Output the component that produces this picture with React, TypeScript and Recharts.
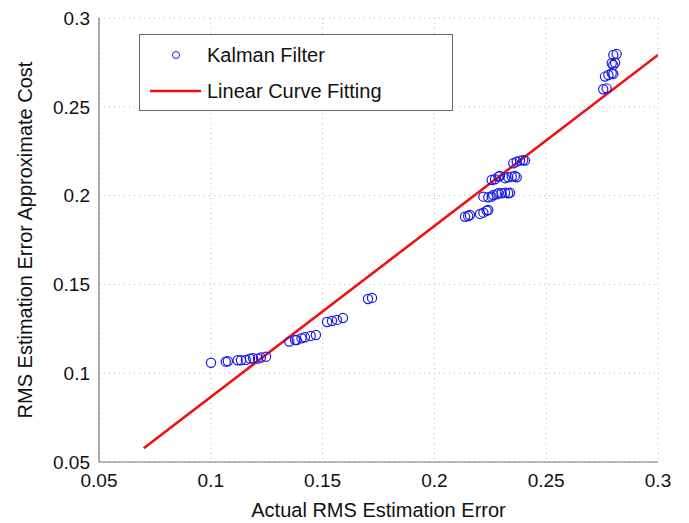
import React from 'react';
import { ScatterChart, Scatter, XAxis, YAxis, CartesianGrid, Legend } from 'recharts';

const kalmanX: number[] = [
  0.1001, 0.1067, 0.1076, 0.112, 0.1135, 0.1157, 0.1175, 0.1189, 0.1211, 0.1224, 0.1247,
  0.1351, 0.1377, 0.1384, 0.1406, 0.1421, 0.1447, 0.147,
  0.152, 0.1542, 0.1564, 0.1591,
  0.1703, 0.1721,
  0.2137, 0.2151, 0.2159, 0.2204, 0.2219, 0.2234, 0.2241,
  0.2219, 0.2241, 0.2256, 0.2263, 0.2279, 0.2286, 0.2301, 0.2316, 0.233, 0.2338,
  0.2256, 0.2271, 0.2286, 0.2293, 0.2316, 0.233, 0.2346, 0.236, 0.2368,
  0.2353, 0.2368, 0.2383, 0.2397, 0.2405,
  0.2755, 0.277, 0.2763, 0.2778, 0.2793, 0.28, 0.2793, 0.2808, 0.28, 0.28, 0.2815,
];
const kalmanY: number[] = [
  0.1059, 0.1065, 0.1067, 0.1073, 0.1073, 0.1075, 0.1082, 0.1084, 0.1082, 0.1088, 0.1093,
  0.1178, 0.1187, 0.1187, 0.1197, 0.1202, 0.121, 0.1215,
  0.1288, 0.1294, 0.13, 0.1311,
  0.1418, 0.1424,
  0.1881, 0.1885, 0.1891, 0.1897, 0.1904, 0.1915, 0.1919,
  0.1994, 0.1991, 0.1994, 0.2003, 0.2007, 0.2013, 0.2013, 0.2016, 0.2013, 0.2016,
  0.2088, 0.2092, 0.2107, 0.211, 0.2098, 0.2103, 0.2107, 0.211, 0.2103,
  0.2182, 0.2191, 0.2197, 0.22, 0.2197,
  0.2599, 0.2604, 0.267, 0.2679, 0.2689, 0.2685, 0.2745, 0.2748, 0.2735, 0.2792, 0.2797,
];
const fitX: number[] = [0.07, 0.3];
const fitY: number[] = [0.0577, 0.2792];
const ticks: number[] = [0.05, 0.1, 0.15, 0.2, 0.25, 0.3];
const tickLabels: string[] = ['0.05', '0.1', '0.15', '0.2', '0.25', '0.3'];

const kalmanData = kalmanX.map((x, i) => ({ x, y: kalmanY[i] }));
const fitData = fitX.map((x, i) => ({ x, y: fitY[i] }));

const FONT = '"Liberation Sans", Arial, Helvetica, sans-serif';
const BLUE = '#1a1ae6';
const RED = '#ee1111';

const fmt = (v: number) => {
  const i = ticks.findIndex((t) => Math.abs(t - v) < 1e-9);
  return i >= 0 ? tickLabels[i] : String(v);
};

const HollowCircle = (props: any) => {
  const { cx, cy } = props;
  if (cx == null || cy == null) return <g />;
  return <circle cx={cx} cy={cy} r={4.6} fill="none" stroke={BLUE} strokeWidth={1.2} />;
};

const NoShape = () => <g />;

const LegendBox = () => (
  <div
    style={{
      width: 312,
      height: 75,
      border: '1.5px solid #666',
      background: '#fff',
      fontFamily: FONT,
      fontSize: 20,
      color: '#111',
      position: 'relative',
      boxSizing: 'content-box',
    }}
  >
    <svg width={70} height={75} style={{ position: 'absolute', left: 0, top: 0 }}>
      <circle cx={36} cy={20} r={3.5} fill="none" stroke={BLUE} strokeWidth={1} />
      <line x1={10} x2={61} y1={56} y2={56} stroke={RED} strokeWidth={2.5} />
    </svg>
    <div style={{ position: 'absolute', left: 67, top: 8, lineHeight: '24px', whiteSpace: 'nowrap' }}>Kalman Filter</div>
    <div style={{ position: 'absolute', left: 67, top: 44, lineHeight: '24px', whiteSpace: 'nowrap' }}>Linear Curve Fitting</div>
  </div>
);

export default function App() {
  return (
    <div style={{ position: 'absolute', left: 0, top: 0, background: '#fff' }}>
      <ScatterChart width={689} height={523} margin={{ top: 18, right: 31, bottom: 0, left: 0 }}>
        <CartesianGrid stroke="#b8b8b8" strokeDasharray="1 4" />
        <XAxis
          type="number"
          dataKey="x"
          domain={[0.05, 0.3]}
          ticks={ticks}
          tickFormatter={fmt}
          height={61}
          tickSize={0}
          tickMargin={12}
          axisLine={{ stroke: '#777', strokeWidth: 1.2 }}
          tick={{ fill: '#111', fontSize: 19, fontFamily: FONT }}
          allowDataOverflow
          label={{ value: 'Actual RMS Estimation Error', position: 'center', dy: 17, fill: '#111', fontSize: 20, fontFamily: FONT }}
        />
        <YAxis
          type="number"
          dataKey="y"
          domain={[0.05, 0.3]}
          ticks={ticks}
          tickFormatter={fmt}
          width={99}
          tickSize={0}
          tickMargin={9}
          axisLine={{ stroke: '#777', strokeWidth: 1.2 }}
          tick={{ fill: '#111', fontSize: 19, fontFamily: FONT }}
          allowDataOverflow
          label={{ value: 'RMS Estimation Error Approximate Cost', angle: -90, position: 'center', dx: -25, fill: '#111', fontSize: 20, fontFamily: FONT }}
        />
        <Scatter
          name="Linear Curve Fitting"
          data={fitData}
          line={{ stroke: RED, strokeWidth: 2.6 }}
          shape={NoShape}
          isAnimationActive={false}
        />
        <Scatter name="Kalman Filter" data={kalmanData} shape={HollowCircle} isAnimationActive={false} />
        <Legend
          layout="horizontal"
          verticalAlign="middle"
          align="center"
          content={LegendBox}
          wrapperStyle={{ left: 139, top: 34, width: 316, height: 79 }}
        />
      </ScatterChart>
    </div>
  );
}
